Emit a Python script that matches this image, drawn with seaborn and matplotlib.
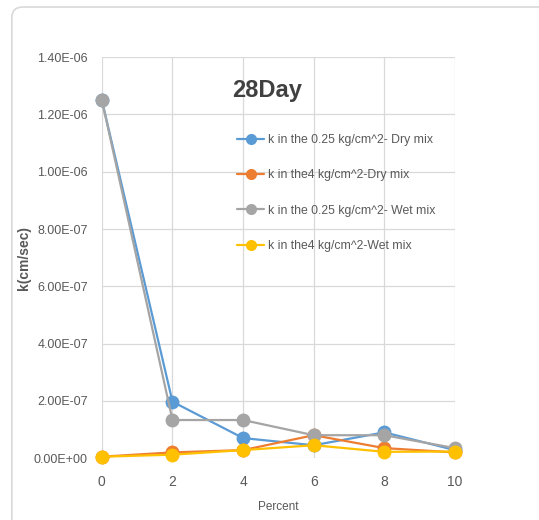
import matplotlib
matplotlib.use("Agg")
import matplotlib.pyplot as plt
from matplotlib.patches import FancyBboxPatch
import seaborn as sns
import pandas as pd
from matplotlib.ticker import FuncFormatter

percent = [0, 2, 4, 6, 8, 10]
dry_025 = [1.25e-6, 1.97e-7, 7.0e-8, 4.5e-8, 9.0e-8, 2.8e-8]
dry_4 = [5e-9, 2.0e-8, 2.8e-8, 8.0e-8, 3.5e-8, 2.0e-8]
wet_025 = [1.25e-6, 1.33e-7, 1.33e-7, 8.0e-8, 8.0e-8, 3.5e-8]
wet_4 = [5e-9, 1.2e-8, 2.8e-8, 4.5e-8, 2.2e-8, 2.3e-8]
series_names = ["k in the 0.25 kg/cm^2- Dry mix", "k in the4 kg/cm^2-Dry mix",
                "k in the 0.25 kg/cm^2- Wet mix", "k in the4 kg/cm^2-Wet mix"]
colors = ["#5B9BD5", "#ED7D31", "#A5A5A5", "#FFC000"]

rows = []
for name, vals in zip(series_names, [dry_025, dry_4, wet_025, wet_4]):
    for p, v in zip(percent, vals):
        rows.append({"Percent": p, "k": v, "series": name})
df = pd.DataFrame(rows)

sns.set_style("white")
plt.rcParams['font.family'] = ['Liberation Sans', 'DejaVu Sans']

fig = plt.figure(figsize=(5.39, 5.20), dpi=100)
ax = fig.add_axes([0.189, 0.119, 0.655, 0.771])

fig.patches.append(FancyBboxPatch((0.022, -0.1), 1.2, 1.0865, boxstyle="round,pad=0,rounding_size=0.02",
                                  transform=fig.transFigure, fill=False, edgecolor="#D9D9D9", linewidth=1.2))

sns.lineplot(data=df, x="Percent", y="k", hue="series", hue_order=series_names, palette=colors,
             marker="o", markersize=10, markeredgewidth=0, linewidth=1.6, ax=ax, zorder=3)

ax.set_xlim(0, 10)
ax.set_ylim(0, 1.4e-6)
ax.set_xticks(percent)
ax.set_yticks([i * 2e-7 for i in range(8)])
ax.yaxis.set_major_formatter(FuncFormatter(lambda v, p: ("%.2E" % v)))
ax.grid(True, color="#D9D9D9", linewidth=0.9)
for s in ax.spines.values():
    s.set_visible(False)
ax.tick_params(axis="y", length=0, labelsize=9, colors="#595959", pad=10)
ax.tick_params(axis="x", length=0, labelsize=10, colors="#595959", pad=12)
ax.set_xlabel("Percent", fontsize=8.5, color="#595959", labelpad=9)
ax.set_ylabel("k(cm/sec)", fontsize=10, color="#595959", fontweight="bold")
ax.yaxis.set_label_coords(-0.2, 0.5)
for line in ax.lines:
    line.set_clip_on(False)

ax.text(0.37, 0.90, "28Day", transform=ax.transAxes, fontsize=17, fontweight="bold", color="#404040")
leg = ax.legend(loc="upper left", bbox_to_anchor=(0.37, 0.82), frameon=False, fontsize=8.8,
                labelcolor="#595959", handlelength=2.2, labelspacing=1.9, handletextpad=0.3, borderaxespad=0)
for h in leg.legend_handles:
    h.set_markersize(8)

fig.savefig("out.png", dpi=100)
